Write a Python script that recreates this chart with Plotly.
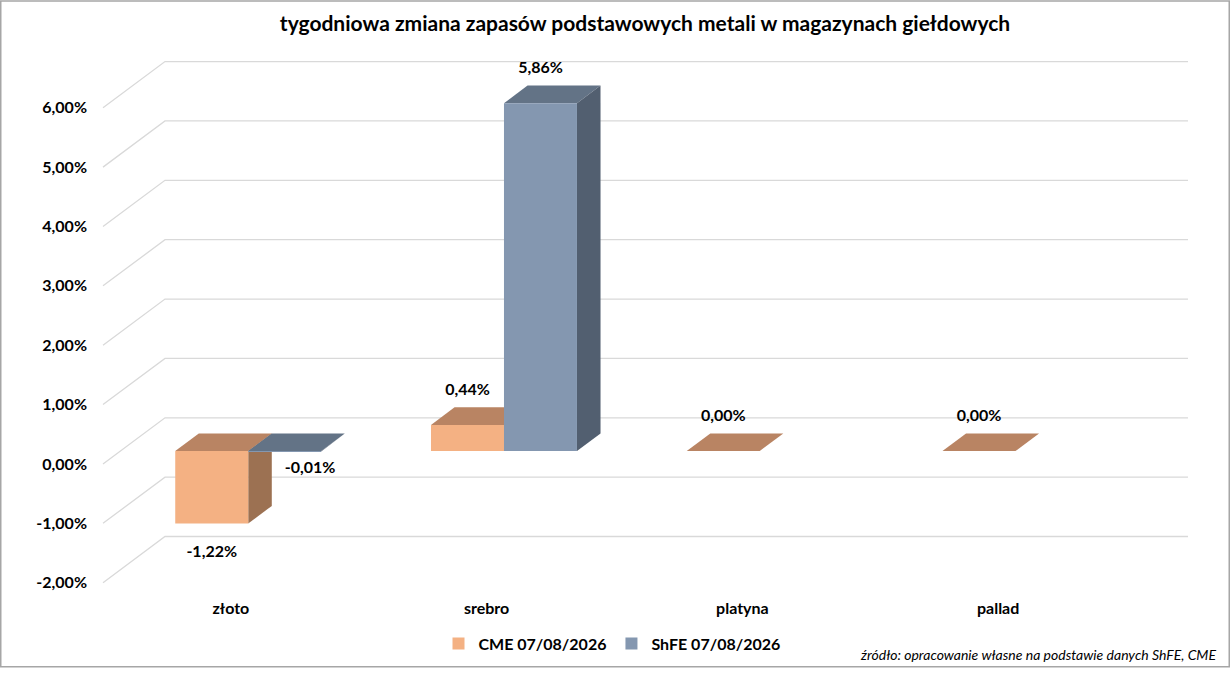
import plotly.graph_objects as go

# data
categories = ["złoto", "srebro", "platyna", "pallad"]
cme = [-1.22, 0.44, 0.00, 0.00]
shfe = [-0.01, 5.86, None, None]
series_names = ["CME 07/08/2026", "ShFE 07/08/2026"]
y_ticks = [-2, -1, 0, 1, 2, 3, 4, 5, 6]

title = "tygodniowa zmiana zapasów podstawowych metali w magazynach giełdowych"
source = "źródło: opracowanie własne na podstawie danych ShFE, CME"

# colours: front, top, side
CME_COL = ("#F4B183", "#B98463", "#9C7152")
SHFE_COL = ("#8497B0", "#637386", "#525F70")
GRID = "#D9D9D9"
FONT = "Lato"

# fake 3d geometry (axis units): x = category units, y = percent
WALL_DX = 0.2424      # depth shift to back wall, in categories
WALL_DY = 0.7776      # depth shift to back wall, in percent
D_FRONT, D_BACK = 0.28, 0.66
BAR_W = 0.2854

# plot frame in pixels
W, H = 1231, 673
L, R, T, B = 90, 31, 45, 76
X0_PX, CAT_PX = 103, 255.75
Y0_PX, PCT_PX = 467, 59.8
x_range = [(L - X0_PX) / CAT_PX, (W - R - X0_PX) / CAT_PX]
y_range = [(Y0_PX - (H - B)) / PCT_PX, (Y0_PX - T) / PCT_PX]
pw, ph = W - L - R, H - T - B

fig = go.Figure()

# gridlines: left side wall + back wall
gx, gy = [], []
for v in y_ticks:
    gx += [0, WALL_DX, len(categories) + WALL_DX, None]
    gy += [v, v + WALL_DY, v + WALL_DY, None]
fig.add_trace(go.Scatter(x=gx, y=gy, mode="lines", line=dict(color=GRID, width=1.3),
                         hoverinfo="skip", showlegend=False, zorder=0))

fx0, fy0 = D_FRONT * WALL_DX, D_FRONT * WALL_DY
ddx, ddy = (D_BACK - D_FRONT) * WALL_DX, (D_BACK - D_FRONT) * WALL_DY

lab_x, lab_y, lab_t, lab_p = [], [], [], []
for k, (vals, cols, name) in enumerate([(cme, CME_COL, series_names[0]),
                                         (shfe, SHFE_COL, series_names[1])]):
    xs, ys = [], []
    for i, v in enumerate(vals):
        if v is None:
            continue
        xc = i + 0.5 + (k - 0.5) * BAR_W + fx0
        xs.append(xc)
        ys.append(v)
        xl, xr = xc - BAR_W / 2, xc + BAR_W / 2
        top = fy0 + max(v, 0)
        lo, hi = fy0 + min(v, 0), fy0 + max(v, 0)
        # top face
        fig.add_trace(go.Scatter(
            x=[xl, xr, xr + ddx, xl + ddx, xl], y=[top, top, top + ddy, top + ddy, top],
            fill="toself", fillcolor=cols[1], mode="lines", line=dict(width=0),
            hoverinfo="skip", showlegend=False, zorder=1))
        # side face
        if hi > lo:
            fig.add_trace(go.Scatter(
                x=[xr, xr + ddx, xr + ddx, xr, xr], y=[hi, hi + ddy, lo + ddy, lo, hi],
                fill="toself", fillcolor=cols[2], mode="lines", line=dict(width=0),
                hoverinfo="skip", showlegend=False, zorder=1))
        # value label
        txt = f"{v:.2f}".replace(".", ",") + "%"
        if v >= 0:
            lab_x.append(xc); lab_y.append(top + ddy + 0.28); lab_p.append("middle center")
        elif v < -0.5:
            lab_x.append(xc); lab_y.append(lo - 0.5); lab_p.append("middle center")
        else:
            lab_x.append(xc); lab_y.append(lo - 0.3); lab_p.append("middle right")
        lab_t.append(txt)
    fig.add_trace(go.Bar(x=xs, y=ys, base=[fy0] * len(xs), width=BAR_W, name=name,
                         marker=dict(color=cols[0], line=dict(width=0)), zorder=2))

fig.add_trace(go.Scatter(x=lab_x, y=lab_y, text=lab_t, textposition=lab_p, mode="text",
                         textfont=dict(family=FONT, size=16, color="#000000", weight="bold"),
                         hoverinfo="skip", showlegend=False, zorder=3))

fig.update_layout(
    width=W, height=H,
    margin=dict(l=L, r=R, t=T, b=B),
    paper_bgcolor="white", plot_bgcolor="white",
    barmode="overlay",
    title=dict(text=title, x=645 / W, xanchor="center", y=1 - 24 / H, yanchor="middle",
               font=dict(family=FONT, size=21, color="#000000", weight="bold")),
    xaxis=dict(range=x_range, showgrid=False, zeroline=False, showline=False,
               tickvals=[i + 0.5 for i in range(len(categories))], ticktext=categories,
               ticks="", ticklabelstandoff=4,
               tickfont=dict(family=FONT, size=16, color="#000000", weight="bold")),
    yaxis=dict(range=y_range, showgrid=False, zeroline=False, showline=False,
               tickvals=y_ticks,
               ticktext=[f"{v:.2f}".replace(".", ",") + "%" for v in y_ticks],
               ticks="", ticklabelstandoff=2,
               tickfont=dict(family=FONT, size=16, color="#000000", weight="bold")),
    legend=dict(orientation="h", x=(612 - L) / pw, xanchor="center",
                y=-(648 - (H - B)) / ph, yanchor="middle",
                font=dict(family=FONT, size=16, color="#000000", weight="bold")),
    annotations=[dict(text=source, xref="paper", yref="paper",
                      x=(1218 - L) / pw, xanchor="right",
                      y=-(659 - (H - B)) / ph, yanchor="middle", showarrow=False,
                      font=dict(family=FONT, size=14, color="#000000", style="italic"))],
    shapes=[dict(type="rect", xref="paper", yref="paper",
                 x0=(0.75 - L) / pw, x1=(W - 1.75 - L) / pw,
                 y0=((H - B) - (H - 1.75)) / ph, y1=((H - B) - 0.75) / ph,
                 line=dict(color="#A6A6A6", width=1.5))],
)

# drop the default page margin so the figure sits at the window's corner
fig.write_html("out.html", config={"displayModeBar": False},
               post_script="document.body.style.margin='0';")
